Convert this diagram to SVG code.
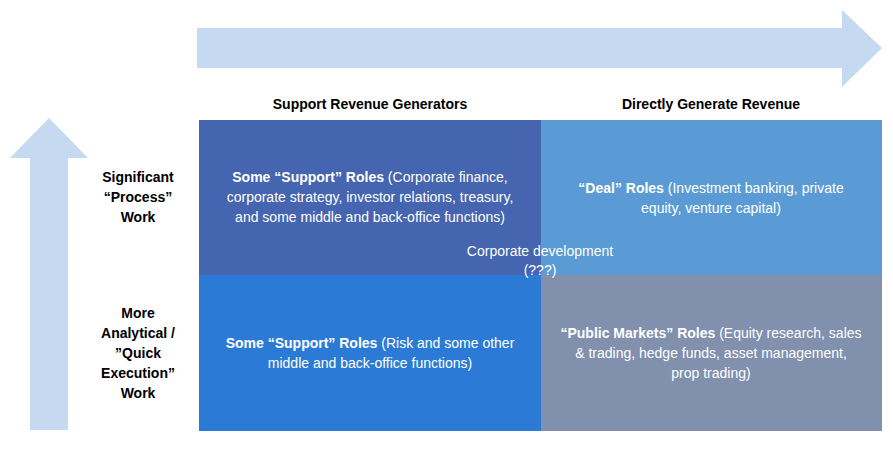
<svg xmlns="http://www.w3.org/2000/svg" width="893" height="454" viewBox="0 0 893 454">
<style>
text{font-family:"Liberation Sans","Noto Sans",sans-serif;font-size:14px;text-anchor:middle}
.w{fill:#fff}.k{fill:#000}.b{font-weight:bold}
</style>
<rect width="893" height="454" fill="#fff"/>
<g id="connectors">
<path d="M197,28 H842 V10 L882,48 L842,87 V68 H197 Z" fill="#c5d9f1"/>
<path d="M30,430 V158 H10 L49,118 L88,158 H68 V430 Z" fill="#c5d9f1"/>
</g>
<g id="q-tl"><rect x="199" y="120" width="342" height="155" fill="#4565b0"/>
<text class="w" x="370" y="182"><tspan class="b">Some “Support” Roles</tspan> (Corporate finance,</text>
<text class="w" x="370" y="202">corporate strategy, investor relations, treasury,</text>
<text class="w" x="370" y="222">and some middle and back-office functions)</text></g>
<g id="q-tr"><rect x="541" y="120" width="341" height="155" fill="#5b9bd5"/>
<text class="w" x="711" y="193"><tspan class="b">“Deal” Roles</tspan> (Investment banking, private</text>
<text class="w" x="711" y="213">equity, venture capital)</text></g>
<g id="q-bl"><rect x="199" y="275" width="342" height="156" fill="#2b7bd6"/>
<text class="w" x="370" y="348"><tspan class="b">Some “Support” Roles</tspan> (Risk and some other</text>
<text class="w" x="370" y="368">middle and back-office functions)</text></g>
<g id="q-br"><rect x="541" y="275" width="341" height="156" fill="#8090ad"/>
<text class="w" x="711" y="338"><tspan class="b">“Public Markets” Roles</tspan> (Equity research, sales</text>
<text class="w" x="711" y="358">&amp; trading, hedge funds, asset management,</text>
<text class="w" x="711" y="378">prop trading)</text></g>
<g id="center"><text class="w" x="540" y="256">Corporate development</text>
<text class="w" x="540" y="275">(???)</text></g>
<g id="headers">
<text class="k b" x="370" y="109">Support Revenue Generators</text>
<text class="k b" x="711" y="109">Directly Generate Revenue</text>
<text class="k b" x="138" y="182">Significant</text>
<text class="k b" x="138" y="202">“Process”</text>
<text class="k b" x="138" y="222">Work</text>
<text class="k b" x="138" y="318">More</text>
<text class="k b" x="138" y="338">Analytical /</text>
<text class="k b" x="138" y="358">”Quick</text>
<text class="k b" x="138" y="378">Execution”</text>
<text class="k b" x="138" y="398">Work</text>
</g>
</svg>
